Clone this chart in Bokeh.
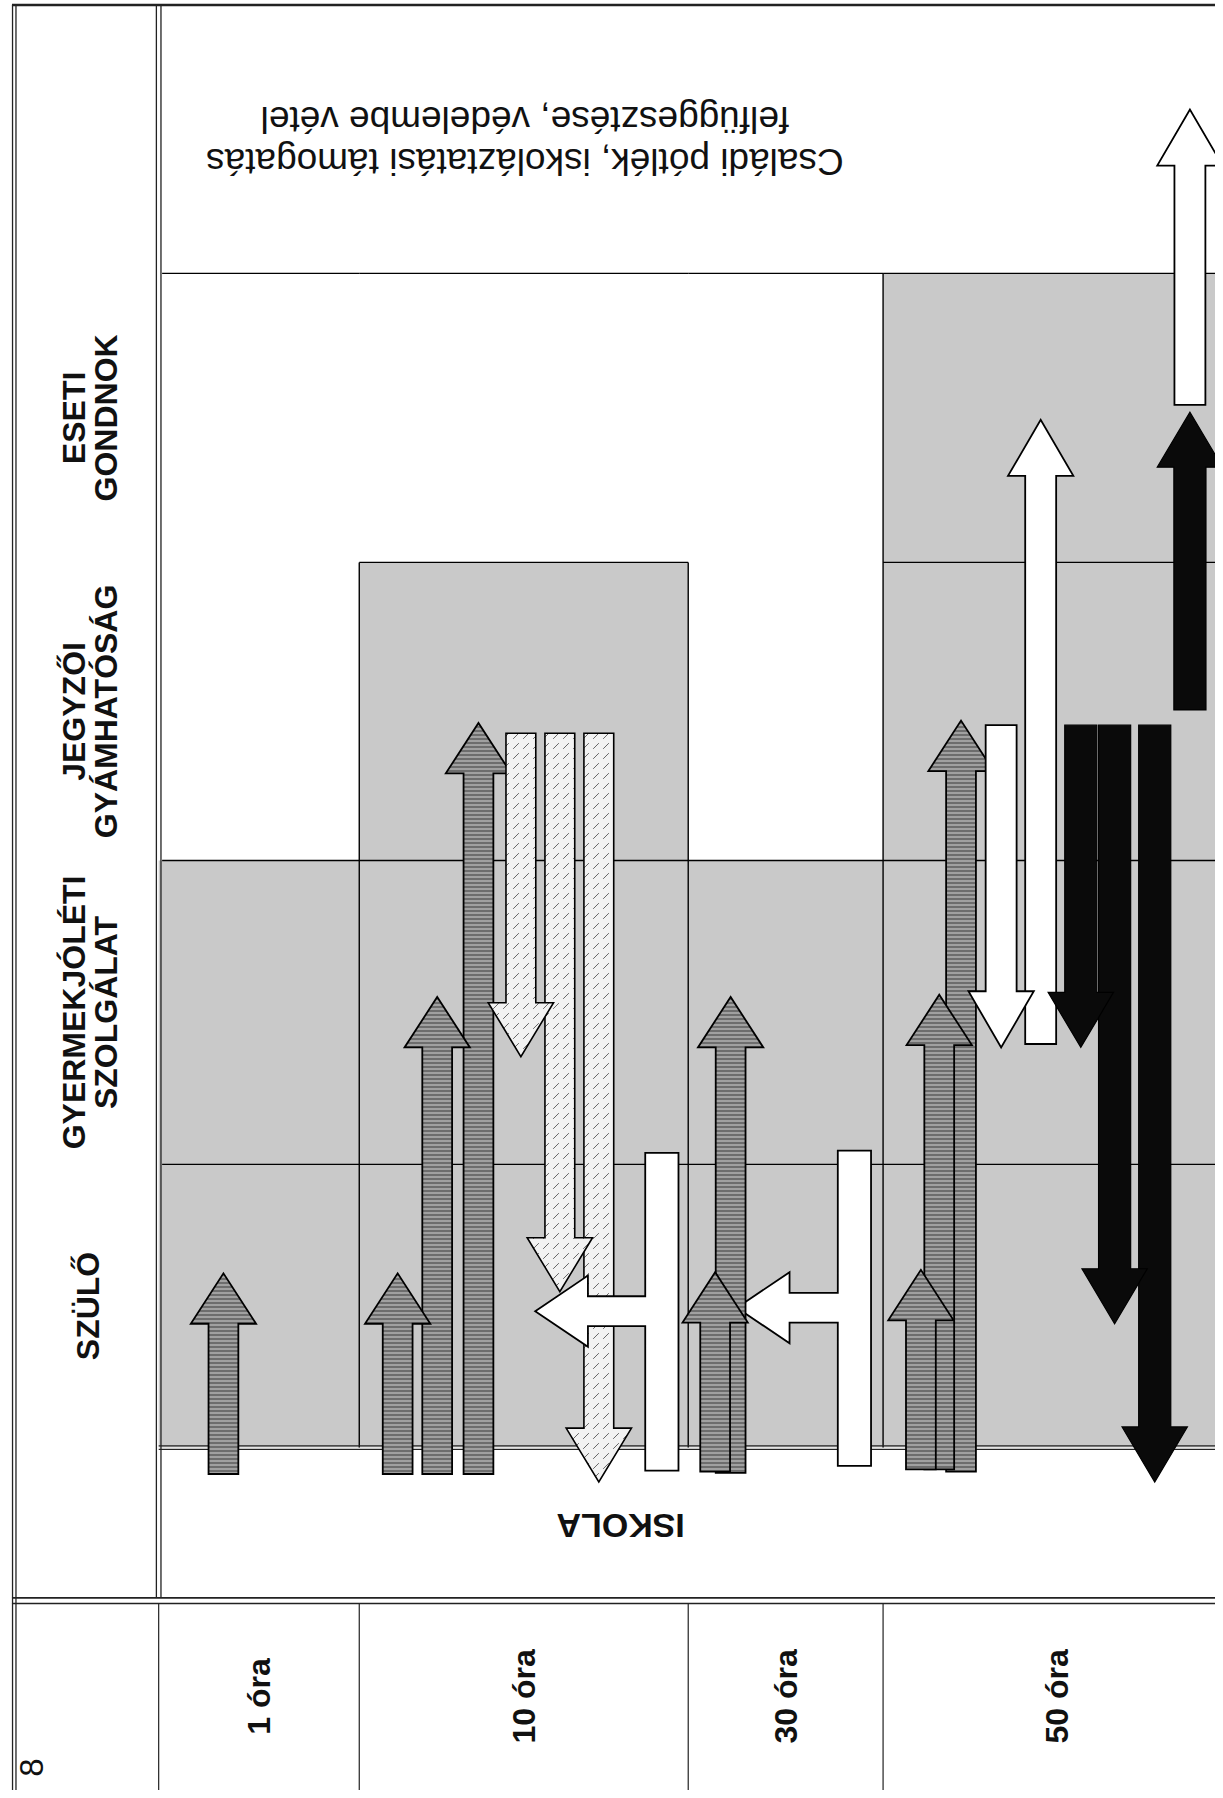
import math
from bokeh.plotting import figure
from bokeh.models import Range1d
from bokeh.core.properties import value
from bokeh.embed import file_html
from bokeh.resources import INLINE

# ---------------- data (reference page units) ----------------
col_labels = ["1 óra", "10 óra", "30 óra", "50 óra"]
col_edges = [138, 313, 600, 770, 1073]

row_names = [["Családi pótlék, iskoláztatási támogatás", "felfüggesztése, védelembe vétel"],
             ["ESETI", "GONDNOK"],
             ["JEGYZŐI", "GYÁMHATÓSÁG"],
             ["GYERMEKJÓLÉTI", "SZOLGÁLAT"],
             ["SZÜLŐ"],
             ["ISKOLA"]]
row_edges = [4, 238, 490, 750, 1015, 1262, 1393]
shade_top_row = [3, 2, 3, 1]   # highest row reached by the shaded band, per column

# gray arrows (ISKOLA -> institution)
gray_col = [0, 1, 1, 1, 2, 2, 3, 3, 3]
gray_x = [194.5, 346.5, 381, 417, 623.5, 637, 803, 819, 838]
gray_y0 = [1285, 1285, 1285, 1285, 1283, 1284, 1281, 1281, 1283]
gray_y1 = [1110, 1110, 869, 630, 1109, 869, 1107, 867, 628]

# dotted arrows (JEGYZŐI -> down)
dot_x = [454, 488, 522]
dot_y0 = [639, 639, 639]
dot_y1 = [921, 1126, 1292]

# white "tee" arrows pointing left
tee_x = [577, 745]
tee_y0 = [1005, 1003]
tee_y1 = [1282, 1278]
tee_ay = [1143, 1140]
tee_tip = [466.5, 642.4]

# white arrows
white_x = [873, 907.5, 1037.7]
white_y0 = [632, 910, 352.7]
white_y1 = [913, 365.6, 95]

# black arrows
black_x = [942.5, 972, 1007, 1037.7]
black_y0 = [632, 632, 632, 618.7]
black_y1 = [913, 1154, 1292, 359]

shade_bottom = row_edges[5]
x_right = 1073

# ---------------- figure ----------------
sx = 1223 / 1067
sy = 1798 / 1568
W, H = 1215, 1790
p = figure(width=W, height=H,
           x_range=Range1d(0, W / sx), y_range=Range1d(H / sy, 0),
           output_backend="svg", toolbar_location=None,
           x_axis_type=None, y_axis_type=None, min_border=0)
p.grid.visible = False
p.outline_line_color = None
p.background_fill_color = "white"
p.border_fill_color = "white"

FS = lambda u: "%dpx" % round(u * sx)

# shaded bands
p.quad(left=col_edges[:-1], right=col_edges[1:],
       top=[row_edges[i] for i in shade_top_row], bottom=[shade_bottom] * 4,
       fill_color="#c9c9c9", line_color=None)

# grid lines derived from shading
hx0, hx1, hy = [], [], []
for k in [1, 2, 3, 4]:
    yk = row_edges[k]
    for c in range(4):
        if k == 1 or row_edges[shade_top_row[c]] <= yk:
            hx0.append(col_edges[c] if c > 0 else 141)
            hx1.append(col_edges[c + 1])
            hy.append(yk)
p.segment(x0=hx0, y0=hy, x1=hx1, y1=hy, line_color="black", line_width=1.4)
vx, vy0 = [], []
for c in range(1, 4):
    vx.append(col_edges[c])
    vy0.append(min(row_edges[shade_top_row[c - 1]], row_edges[shade_top_row[c]]))
p.segment(x0=vx, y0=vy0, x1=vx, y1=[shade_bottom] * 3, line_color="black", line_width=1.4)
# shaded band bottom (double)
p.segment(x0=[138, 138], y0=[shade_bottom - 1.5, shade_bottom + 1.5], x1=[x_right] * 2,
          y1=[shade_bottom - 1.5, shade_bottom + 1.5], line_color="#222", line_width=1.3)

# frame of the table
p.segment(x0=[10.5, 13.5, 136, 140], y0=[4, 4, 4, 4], x1=[10.5, 13.5, 136, 140],
          y1=[1563, 1563, row_edges[6], row_edges[6]], line_color="#222", line_width=1.3)
p.segment(x0=[10, 10, 10, 10], y0=[4, row_edges[6], row_edges[6] + 5, 1562],
          x1=[x_right] * 4, y1=[4, row_edges[6], row_edges[6] + 5, 1562],
          line_color="#222", line_width=[2.5, 1.6, 1.6, 2.2])
# bottom row dividers
p.segment(x0=col_edges[:4], y0=[row_edges[6] + 5] * 4, x1=col_edges[:4], y1=[1562] * 4,
          line_color="#222", line_width=1.2)


def varrow(x, y0, y1, sw, hw, hl):
    d = 1 if y1 > y0 else -1
    yb = y1 - d * hl
    xs = [x - sw / 2, x + sw / 2, x + sw / 2, x + hw / 2, x, x - hw / 2, x - sw / 2]
    ys = [y0, y0, yb, yb, y1, yb, yb]
    return xs, ys


def draw_arrows(xs, y0s, y1s, sw, hw, hl, **kw):
    order = sorted(range(len(xs)), key=lambda i: -abs(y1s[i] - y0s[i]))
    XS, YS = [], []
    for i in order:
        a, b = varrow(xs[i], y0s[i], y1s[i], sw, hw, hl)
        XS.append(a)
        YS.append(b)
    p.patches(XS, YS, line_color="black", line_join="miter", **kw)


gray_style = dict(fill_color="#a0a0a0", hatch_pattern="horizontal_line", hatch_color="#3a3a3a",
                  hatch_scale=4, hatch_weight=1, line_width=1.8)

g1 = [i for i in range(len(gray_x)) if gray_col[i] <= 1]
draw_arrows([gray_x[i] for i in g1], [gray_y0[i] for i in g1], [gray_y1[i] for i in g1],
            26, 57, 44, **gray_style)

draw_arrows(dot_x, dot_y0, dot_y1, 26, 57, 47, fill_color="#f2f2f2",
            hatch_pattern="right_diagonal_dash", hatch_color="#666666", hatch_scale=10,
            hatch_weight=1, line_width=1.6)

# tee arrows
TX, TY = [], []
for i in range(len(tee_x)):
    bx0, bx1 = tee_x[i] - 14.5, tee_x[i] + 14.5
    ay, tx = tee_ay[i], tee_tip[i]
    hb = tx + 46
    TX.append([bx0, bx1, bx1, bx0, bx0, hb, hb, tx, hb, hb, bx0])
    TY.append([tee_y0[i], tee_y0[i], tee_y1[i], tee_y1[i], ay + 13, ay + 13, ay + 31, ay,
               ay - 31, ay - 13, ay - 13])
p.patches(TX, TY, fill_color="white", line_color="black", line_width=1.8, line_join="miter")

g2 = [i for i in range(len(gray_x)) if gray_col[i] >= 2]
draw_arrows([gray_x[i] for i in g2], [gray_y0[i] for i in g2], [gray_y1[i] for i in g2],
            26, 57, 44, **gray_style)

draw_arrows(white_x, white_y0, white_y1, 27, 57, 49, fill_color="white", line_width=1.8)
draw_arrows(black_x, black_y0, black_y1, 28, 57, 48, fill_color="#0a0a0a", line_width=1.2)

# ---------------- texts ----------------
bold = dict(text_font=value("Liberation Sans"), text_font_style="bold", text_color="#111",
            text_align="center", text_baseline="middle")

# top row, upside down
p.text(x=[457.5, 457.5], y=[140, 104], text=row_names[0], angle=math.pi,
       text_font=value("Liberation Sans"), text_font_size=FS(32), text_color="#111",
       text_align="center", text_baseline="middle")

# row labels in the left strip (rotated)
lx, ly, lt = [], [], []
for k in range(1, 5):
    yc = (row_edges[k] + row_edges[k + 1]) / 2
    lines = row_names[k]
    if len(lines) == 2:
        pos = [64, 92]
    else:
        pos = [76]
    for t, xx in zip(lines, pos):
        lx.append(xx)
        ly.append(yc)
        lt.append(t)
p.text(x=lx, y=ly, text=lt, angle=math.pi / 2, text_font_size=FS(27.5), **bold)

# ISKOLA upside down
p.text(x=[541], y=[1330], text=row_names[5], angle=math.pi, text_font_size=FS(30), **bold)

# hour labels
p.text(x=[(col_edges[c] + col_edges[c + 1]) / 2 for c in range(4)], y=[1479] * 4,
       text=col_labels, angle=math.pi / 2, text_font_size=FS(28), **bold)

p.text(x=[27], y=[1541], text=["8"], angle=math.pi / 2, text_font=value("Liberation Sans"),
       text_font_size=FS(29), text_color="#111", text_align="center", text_baseline="middle")

open("out.html", "w").write(file_html(p, INLINE))
